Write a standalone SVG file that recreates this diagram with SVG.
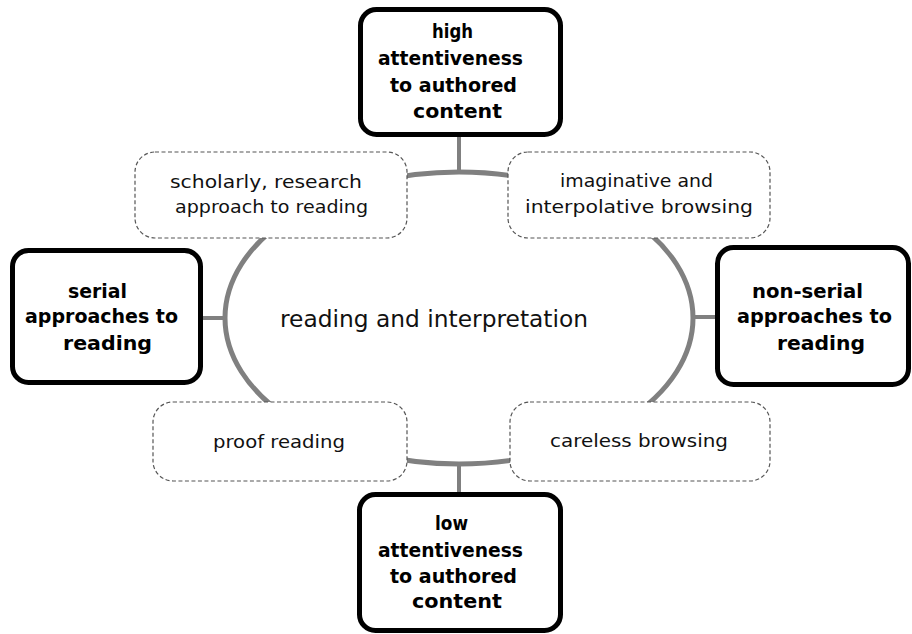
<svg xmlns="http://www.w3.org/2000/svg" width="912" height="634" viewBox="0 0 912 634">
<style>
.main{fill:#fff;stroke:#000;stroke-width:5}
.sub{fill:#fff;stroke:#555;stroke-width:1.2;stroke-dasharray:4 2.5}
.conn{stroke:#808080;fill:none}
.b{font-family:"DejaVu Sans",sans-serif;font-weight:bold;font-size:19.5px;fill:#000}
.r{font-family:"DejaVu Sans",sans-serif;font-size:18.5px;fill:#111}
.c{font-family:"DejaVu Sans",sans-serif;font-size:23px;fill:#111}
</style>
<rect width="912" height="634" fill="#fff"/>
<g id="connectors">
<ellipse class="conn" cx="459" cy="318" rx="234" ry="146" stroke-width="5"/>
<line class="conn" x1="459" y1="135" x2="459" y2="172" stroke-width="4"/>
<line class="conn" x1="459" y1="464" x2="459" y2="494" stroke-width="4"/>
<line class="conn" x1="202" y1="318" x2="225" y2="318" stroke-width="4"/>
<line class="conn" x1="693" y1="317" x2="717" y2="317" stroke-width="4"/>
</g>
<g id="center">
<text class="c" x="280" y="327" textLength="308" lengthAdjust="spacingAndGlyphs">reading and interpretation</text>
</g>
<g id="scholarly">
<rect class="sub" x="135" y="152" width="272" height="86" rx="20"/>
<text class="r" x="170" y="188" textLength="192" lengthAdjust="spacingAndGlyphs">scholarly, research</text>
<text class="r" x="175" y="213" textLength="193" lengthAdjust="spacingAndGlyphs">approach to reading</text>
</g>
<g id="imaginative">
<rect class="sub" x="508" y="152" width="262" height="86" rx="20"/>
<text class="r" x="560" y="187" textLength="153" lengthAdjust="spacingAndGlyphs">imaginative and</text>
<text class="r" x="525" y="213" textLength="228" lengthAdjust="spacingAndGlyphs">interpolative browsing</text>
</g>
<g id="proof">
<rect class="sub" x="153" y="402" width="254" height="79" rx="20"/>
<text class="r" x="213" y="448" textLength="132" lengthAdjust="spacingAndGlyphs">proof reading</text>
</g>
<g id="careless">
<rect class="sub" x="510" y="402" width="260" height="79" rx="20"/>
<text class="r" x="550" y="447" textLength="178" lengthAdjust="spacingAndGlyphs">careless browsing</text>
</g>
<g id="high">
<rect class="main" x="360.5" y="9.5" width="200" height="125" rx="16"/>
<text class="b" x="432" y="38" textLength="41" lengthAdjust="spacingAndGlyphs">high</text>
<text class="b" x="378" y="65" textLength="145" lengthAdjust="spacingAndGlyphs">attentiveness</text>
<text class="b" x="390" y="92" textLength="127" lengthAdjust="spacingAndGlyphs">to authored</text>
<text class="b" x="413" y="118" textLength="89" lengthAdjust="spacingAndGlyphs">content</text>
</g>
<g id="low">
<rect class="main" x="359.5" y="494.5" width="201" height="136" rx="16"/>
<text class="b" x="435" y="530" textLength="33" lengthAdjust="spacingAndGlyphs">low</text>
<text class="b" x="378" y="557" textLength="145" lengthAdjust="spacingAndGlyphs">attentiveness</text>
<text class="b" x="390" y="583" textLength="127" lengthAdjust="spacingAndGlyphs">to authored</text>
<text class="b" x="412" y="608" textLength="90" lengthAdjust="spacingAndGlyphs">content</text>
</g>
<g id="serial">
<rect class="main" x="12.5" y="250.5" width="188" height="132" rx="16"/>
<text class="b" x="68" y="298" textLength="59" lengthAdjust="spacingAndGlyphs">serial</text>
<text class="b" x="25" y="323" textLength="153" lengthAdjust="spacingAndGlyphs">approaches to</text>
<text class="b" x="63" y="350" textLength="89" lengthAdjust="spacingAndGlyphs">reading</text>
</g>
<g id="nonserial">
<rect class="main" x="717.5" y="247.5" width="191" height="137" rx="16"/>
<text class="b" x="752" y="298" textLength="111" lengthAdjust="spacingAndGlyphs">non-serial</text>
<text class="b" x="737" y="323" textLength="155" lengthAdjust="spacingAndGlyphs">approaches to</text>
<text class="b" x="777" y="350" textLength="88" lengthAdjust="spacingAndGlyphs">reading</text>
</g>
</svg>
